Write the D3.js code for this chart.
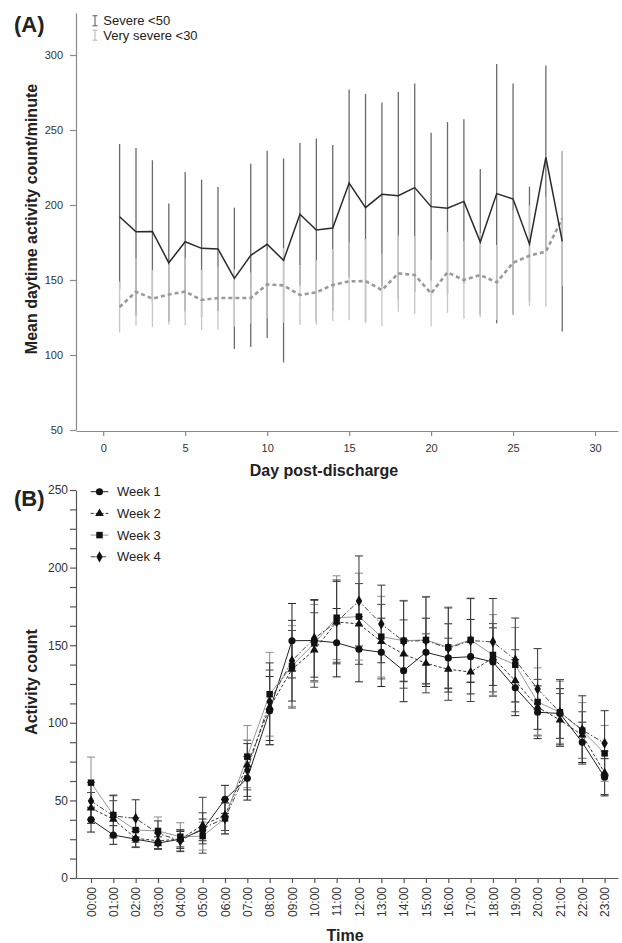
<!DOCTYPE html>
<html>
<head>
<meta charset="utf-8">
<script src="https://cdn.jsdelivr.net/npm/d3@7"></script>
<style>
  body { margin: 0; background: #fff; }
  svg { display: block; font-family: "Liberation Sans", Arial, sans-serif; }
</style>
</head>
<body>
<div id="chart"></div>
<script>
// Panel A data: mean daytime activity per day post-discharge
const days = [1, 2, 3, 4, 5, 6, 7, 8, 9, 10, 11, 12, 13, 14, 15, 16, 17, 18, 19, 20, 21, 22, 23, 24, 25, 26, 27, 28];
const severeMean = [192.2, 182.2, 182.4, 161.5, 175.5, 171.1, 170.7, 151.1, 166.4, 173.8, 163.1, 193.8, 183.3, 184.7,
                    214.6, 198.2, 207.1, 206.2, 211.6, 198.9, 197.8, 202.4, 175.3, 207.6, 204.0, 174.0, 231.8, 175.8];
const severeSD = [48.5, 55.8, 47.4, 39.5, 46.5, 45.8, 41.3, 47.1, 61.1, 62.4, 68.0, 47.5, 61.1, 55.3,
                  62.4, 75.8, 61.3, 69.1, 69.4, 49.3, 57.5, 54.7, 48.7, 86.4, 77.0, 38.2, 61.2, 60.2];
const verySevereMean = [132.0, 142.2, 137.6, 140.4, 142.2, 136.7, 138.0, 138.0, 138.0, 147.1, 146.4, 140.0, 141.8, 146.7,
                        149.1, 149.3, 143.3, 154.4, 153.3, 141.1, 155.1, 150.0, 153.3, 148.4, 161.5, 166.2, 168.9, 191.1];
const verySevereSD = [17.0, 22.5, 19.0, 20.0, 22.6, 20.0, 21.0, 19.0, 17.0, 22.7, 25.0, 20.0, 21.4, 24.0,
                      26.0, 28.0, 24.0, 25.5, 26.0, 22.0, 27.0, 26.0, 28.0, 25.0, 35.0, 33.5, 36.7, 45.0];
const dayTicks = [0, 5, 10, 15, 20, 25, 30];
const meanTicks = [50, 100, 150, 200, 250, 300];

// Panel B data: hourly activity count per week
const hours = ["00:00", "01:00", "02:00", "03:00", "04:00", "05:00", "06:00", "07:00", "08:00", "09:00", "10:00", "11:00",
               "12:00", "13:00", "14:00", "15:00", "16:00", "17:00", "18:00", "19:00", "20:00", "21:00", "22:00", "23:00"];
const week1 = [37.6, 27.7, 25.0, 22.5, 25.0, 31.0, 50.7, 64.2, 107.8, 152.9, 153.0, 151.6, 147.4, 145.4, 133.6, 145.4, 141.8, 142.6, 139.2, 122.6, 106.8, 106.0, 87.4, 64.9];
const week2 = [45.1, 37.8, 25.6, 24.0, 25.0, 34.0, 40.6, 72.8, 110.0, 134.5, 146.9, 165.0, 163.7, 152.3, 144.3, 138.3, 134.5, 132.7, 141.9, 127.1, 110.0, 101.8, 92.1, 67.8];
const week3 = [61.4, 40.6, 30.9, 30.3, 26.6, 27.0, 38.4, 78.2, 118.4, 136.6, 151.2, 167.7, 168.4, 155.5, 152.9, 153.4, 148.6, 153.4, 143.7, 137.4, 113.4, 106.8, 95.0, 80.3];
const week4 = [49.6, 40.0, 38.4, 28.8, 24.0, 32.0, 38.4, 69.6, 113.6, 140.0, 154.4, 165.0, 178.5, 163.7, 152.5, 153.0, 148.0, 153.0, 152.1, 140.5, 121.8, 106.8, 95.4, 86.8];
const week1SD = [8, 6, 5, 4, 5, 7, 9, 14, 22, 24, 26, 22, 21, 22, 20, 22, 22, 24, 22, 18, 17, 16, 13, 12];
const week2SD = [10, 12, 6, 5, 6, 18, 10, 16, 24, 25, 24, 26, 26, 24, 22, 19, 20, 19, 22, 20, 18, 17, 15, 14];
const week3SD = [16.5, 13, 8, 9, 9, 9, 10, 20, 27, 26, 25, 27, 28, 26, 26, 28, 26, 27, 26, 24, 22, 20, 18, 18];
const week4SD = [12, 13, 12, 8, 7, 10, 10, 17, 25, 26, 25, 27, 29, 25, 26, 28, 26, 27, 28, 27, 26, 21, 22, 21];
const countTicks = [0, 12.5, 25, 37.5, 50, 62.5, 75, 87.5, 100, 112.5, 125, 137.5, 150, 162.5, 175, 187.5, 200, 212.5, 225, 237.5, 250];

const svg = d3.select("#chart")
  .append("svg")
  .attr("width", 622)
  .attr("height", 943);

// small helper to restyle axis text
function styleAxis(g, color, size) {
  g.select(".domain").attr("stroke", color).attr("stroke-width", 1.2);
  g.selectAll(".tick line").attr("stroke", color).attr("stroke-width", 1.2);
  g.selectAll("text")
    .attr("fill", "#333")
    .style("font-size", size + "px")
    .style("font-family", "'Liberation Sans', Arial, sans-serif");
}

// ---------------------------------------------------
// Panel A
// ---------------------------------------------------
const xA = d3.scaleLinear().domain([-1.66, 31.4]).range([76, 618]);
const yA = d3.scaleLinear().domain([50, 328]).range([430, 13]);

const gA = svg.append("g");

gA.append("g")
  .attr("transform", "translate(0,431)")
  .call(d3.axisBottom(xA).tickValues(dayTicks).tickSize(5).tickPadding(8).tickSizeOuter(0))
  .call(g => styleAxis(g, "#8a8a8a", 11));

gA.append("g")
  .attr("transform", "translate(76,0)")
  .call(d3.axisLeft(yA).tickValues(meanTicks).tickSize(6).tickPadding(7).tickSizeOuter(0))
  .call(g => styleAxis(g, "#8a8a8a", 11));

// Severe error bars (darker, drawn first)
gA.selectAll(".sev-bar")
  .data(days)
  .enter()
  .append("line")
  .attr("x1", d => xA(d))
  .attr("x2", d => xA(d))
  .attr("y1", (d, i) => yA(severeMean[i] + severeSD[i]))
  .attr("y2", (d, i) => yA(severeMean[i] - severeSD[i]))
  .attr("stroke", "#6a6a6a")
  .attr("stroke-width", 1.3);

// Very severe error bars (lighter, on top)
gA.selectAll(".vs-bar")
  .data(days)
  .enter()
  .append("line")
  .attr("x1", d => xA(d))
  .attr("x2", d => xA(d))
  .attr("y1", (d, i) => yA(verySevereMean[i] + verySevereSD[i]))
  .attr("y2", (d, i) => yA(verySevereMean[i] - verySevereSD[i]))
  .attr("stroke", "#c6c6c6")
  .attr("stroke-width", 1.3);

const lineA = d3.line()
  .x(d => xA(d[0]))
  .y(d => yA(d[1]));

gA.append("path")
  .datum(days.map((d, i) => [d, verySevereMean[i]]))
  .attr("fill", "none")
  .attr("stroke", "#9a9a9a")
  .attr("stroke-width", 2.6)
  .attr("stroke-dasharray", "4,3")
  .attr("d", lineA);

gA.append("path")
  .datum(days.map((d, i) => [d, severeMean[i]]))
  .attr("fill", "none")
  .attr("stroke", "#2a2a2a")
  .attr("stroke-width", 1.5)
  .attr("d", lineA);

// Legend A
const legA = [["Severe <50", "#707070"], ["Very severe <30", "#c0c0c0"]];
legA.forEach(([label, col], i) => {
  const cy = 20.7 + i * 14.5;
  const row = gA.append("g");
  row.append("line").attr("x1", 95).attr("x2", 95).attr("y1", cy - 5).attr("y2", cy + 5)
    .attr("stroke", col).attr("stroke-width", 1.2);
  row.append("line").attr("x1", 92.5).attr("x2", 97.5).attr("y1", cy - 5).attr("y2", cy - 5)
    .attr("stroke", col).attr("stroke-width", 1.2);
  row.append("line").attr("x1", 92.5).attr("x2", 97.5).attr("y1", cy + 5).attr("y2", cy + 5)
    .attr("stroke", col).attr("stroke-width", 1.2);
  row.append("text").attr("x", 103.3).attr("y", cy + 4.6)
    .style("font-size", "13px").attr("fill", "#222").text(label);
});

gA.append("text")
  .attr("x", 14).attr("y", 32)
  .style("font-size", "22px").style("font-weight", "bold").attr("fill", "#222")
  .text("(A)");

gA.append("text")
  .attr("transform", "translate(37,219) rotate(-90)")
  .attr("text-anchor", "middle")
  .style("font-size", "16px").style("font-weight", "bold").attr("fill", "#222")
  .text("Mean daytime activity count/minute");

gA.append("text")
  .attr("x", 324).attr("y", 476)
  .attr("text-anchor", "middle")
  .style("font-size", "16px").style("font-weight", "bold").attr("fill", "#222")
  .text("Day post-discharge");

// ---------------------------------------------------
// Panel B
// ---------------------------------------------------
const xB = d3.scaleLinear().domain([-0.672, 23.6]).range([76, 618]);
const yB = d3.scaleLinear().domain([0, 250]).range([878, 490]);

const gB = svg.append("g");

gB.append("g")
  .attr("transform", "translate(0,878)")
  .call(d3.axisBottom(xB).tickValues(d3.range(hours.length)).tickFormat(i => hours[i])
    .tickSize(5).tickSizeOuter(0))
  .call(g => styleAxis(g, "#555", 12))
  .call(g => g.selectAll(".tick text")
    .attr("text-anchor", "end")
    .attr("transform", "translate(0,9) rotate(-90)")
    .attr("x", 0).attr("y", 0).attr("dy", "0.35em"));

gB.append("g")
  .attr("transform", "translate(76,0)")
  .call(d3.axisLeft(yB).tickValues(countTicks).tickFormat(d => d % 50 === 0 ? d : "")
    .tickSize(6).tickPadding(2).tickSizeOuter(0))
  .call(g => styleAxis(g, "#555", 12));

const weeks = [
  { name: "Week 1", mean: week1, sd: week1SD, symbol: d3.symbolCircle, size: 40, dash: null, lineCol: "#222", barCol: "#222" },
  { name: "Week 2", mean: week2, sd: week2SD, symbol: d3.symbolTriangle, size: 32, dash: "3,2", lineCol: "#333", barCol: "#444" },
  { name: "Week 3", mean: week3, sd: week3SD, symbol: d3.symbolSquare, size: 42, dash: null, lineCol: "#999", barCol: "#8a8a8a" },
  { name: "Week 4", mean: week4, sd: week4SD, symbol: d3.symbolDiamond, size: 36, dash: "5,2,1.5,2", lineCol: "#444", barCol: "#333" }
];

// error bars with caps
weeks.forEach(w => {
  const eb = gB.append("g").attr("stroke", w.barCol).attr("stroke-width", 1);
  w.mean.forEach((m, i) => {
    const x = xB(i);
    eb.append("line").attr("x1", x).attr("x2", x).attr("y1", yB(m + w.sd[i])).attr("y2", yB(m - w.sd[i]));
    eb.append("line").attr("x1", x - 4).attr("x2", x + 4).attr("y1", yB(m + w.sd[i])).attr("y2", yB(m + w.sd[i]));
    eb.append("line").attr("x1", x - 4).attr("x2", x + 4).attr("y1", yB(m - w.sd[i])).attr("y2", yB(m - w.sd[i]));
  });
});

const lineB = d3.line()
  .x((d, i) => xB(i))
  .y(d => yB(d));

weeks.forEach(w => {
  gB.append("path")
    .datum(w.mean)
    .attr("fill", "none")
    .attr("stroke", w.lineCol)
    .attr("stroke-width", 1)
    .attr("stroke-dasharray", w.dash)
    .attr("d", lineB);
});

weeks.forEach(w => {
  gB.selectAll(null)
    .data(w.mean)
    .enter()
    .append("path")
    .attr("d", d3.symbol().type(w.symbol).size(w.size))
    .attr("transform", (d, i) => `translate(${xB(i)},${yB(d)})`)
    .attr("fill", "#111");
});

// Legend B
weeks.forEach((w, i) => {
  const cy = 491.7 + i * 21.7;
  const row = gB.append("g");
  row.append("line").attr("x1", 90.7).attr("x2", 108.3).attr("y1", cy).attr("y2", cy)
    .attr("stroke", w.lineCol).attr("stroke-width", 1).attr("stroke-dasharray", w.dash);
  row.append("path").attr("d", d3.symbol().type(w.symbol).size(w.size))
    .attr("transform", `translate(99.5,${cy})`).attr("fill", "#111");
  row.append("text").attr("x", 117).attr("y", cy + 4.5)
    .style("font-size", "13px").attr("fill", "#222").text(w.name);
});

gB.append("text")
  .attr("x", 14).attr("y", 506)
  .style("font-size", "22px").style("font-weight", "bold").attr("fill", "#222")
  .text("(B)");

gB.append("text")
  .attr("transform", "translate(37,682) rotate(-90)")
  .attr("text-anchor", "middle")
  .style("font-size", "16px").style("font-weight", "bold").attr("fill", "#222")
  .text("Activity count");

gB.append("text")
  .attr("x", 345).attr("y", 941)
  .attr("text-anchor", "middle")
  .style("font-size", "16px").style("font-weight", "bold").attr("fill", "#222")
  .text("Time");
</script>
</body>
</html>
